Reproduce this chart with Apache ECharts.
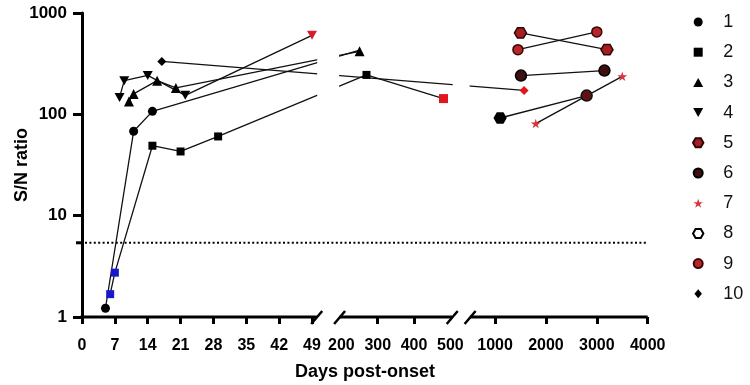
<!DOCTYPE html>
<html><head><meta charset="utf-8">
<script src="https://cdn.jsdelivr.net/npm/echarts@6/dist/echarts.min.js"></script>
<style>html,body{margin:0;padding:0;background:#fff}#chart{width:750px;height:385px}</style>
</head><body><div id="chart"></div>
<script>
// ---------------- data ----------------
const patientNames = ['1', '2', '3', '4', '5', '6', '7', '8', '9', '10'];
const p1Days = [5, 11, 15, 250];
const p1Values = [1.22, 68, 107, 430];
const p2Days = [6, 7, 15, 21, 29, 269, 481];
const p2Values = [1.68, 2.74, 49, 43, 60.5, 245, 143];
const p3Days = [10, 11, 16, 20, 250];
const p3Values = [134, 159, 215, 182, 419];
const p4Days = [8, 9, 14, 22, 49];
const p4Values = [147, 215, 242, 154, 602];
const p5Days = [1500, 3200];
const p5Values = [636, 435];
const p6Days = [1510, 3150];
const p6Values = [241, 270];
const p7Days = [1800, 3500];
const p7Values = [81, 237];
const p8Days = [1100, 2800];
const p8Values = [92, 153];
const p9Days = [1450, 3000];
const p9Values = [435, 651];
const p10Days = [17, 1570];
const p10Values = [333, 172];
const cutoffValue = 5.4;
const xTickDays = [0, 7, 14, 21, 28, 35, 42, 49, 300, 400, 1000, 2000, 3000, 4000];
const xLabelDays = [0, 7, 14, 21, 28, 35, 42, 49, 200, 300, 400, 500, 1000, 2000, 3000, 4000];

// ---------------- broken x-axis definition (scale pieces) ----------------
const xPieces = [
  { from: 0, to: 50, start: 0, end: 234.7 },
  { from: 195, to: 505, start: 257.6, end: 370.2 },
  { from: 510, to: 4000, start: 388.1, end: 565.7 }
];
const axisMax = 566;
function toAxis(d) {
  for (const p of xPieces) {
    if (d >= p.from && d <= p.to) return p.start + (d - p.from) * (p.end - p.start) / (p.to - p.from);
  }
  return NaN;
}
const labelMap = new Map(xLabelDays.map(d => [toAxis(d).toFixed(3), String(d)]));

const FONT = "'Liberation Sans', Arial, sans-serif";
const HEX = 'path://M-1,0 L-0.5,-0.866 L0.5,-0.866 L1,0 L0.5,0.866 L-0.5,0.866 Z';
const TRI_DOWN = 'path://M0,0 L10,0 L5,9 Z';
const TRI_UP = 'path://M5,0 L10,9 L0,9 Z';
const SQUARE = 'path://M0,0 L10,0 L10,10 L0,10 Z';
const DIAMOND = 'path://M5,0 L10,6 L5,12 L0,6 Z';
const STAR = 'path://M50,0 L61.17,34.63 L97.55,34.55 L68.07,55.87 L79.39,90.45 L50,69 L20.61,90.45 L31.93,55.87 L2.45,34.55 L38.83,34.63 Z';
const BLUE = '#1818cc', RED = '#e0161e';

function build(days, values, overrides) {
  return days.map((d, i) => {
    const item = { value: [toAxis(d), values[i]] };
    if (overrides && overrides[i]) Object.assign(item, overrides[i]);
    return item;
  });
}

const seriesDefs = [
  { name: '1', symbol: 'circle', size: 9, style: { color: '#000' }, data: build(p1Days, p1Values, { 3: { symbol: 'none' } }) },
  { name: '2', symbol: 'rect', size: 8, style: { color: '#000' }, data: build(p2Days, p2Values, { 0: { itemStyle: { color: BLUE } }, 1: { itemStyle: { color: BLUE } }, 6: { itemStyle: { color: RED }, symbolSize: 9 } }) },
  { name: '3', symbol: 'triangle', size: 10, style: { color: '#000' }, data: build(p3Days, p3Values) },
  { name: '4', symbol: TRI_DOWN, size: 10, style: { color: '#000' }, data: build(p4Days, p4Values, { 4: { itemStyle: { color: '#d42028' } } }) },
  { name: '5', symbol: HEX, size: 12, style: { color: '#a61d22', borderColor: '#2a0606', borderWidth: 1.5 }, data: build(p5Days, p5Values) },
  { name: '6', symbol: 'circle', size: 11, style: { color: '#3d0f10', borderColor: '#000', borderWidth: 1.5 }, data: build(p6Days, p6Values) },
  { name: '7', symbol: STAR, size: 10, style: { color: '#d8343a' }, data: build(p7Days, p7Values) },
  { name: '8', symbol: HEX, size: 11, style: { color: '#fff', borderColor: '#000', borderWidth: 2 }, data: build(p8Days, p8Values, { 0: { itemStyle: { color: '#000' } }, 1: { symbol: 'circle', itemStyle: { color: '#5e1216', borderColor: '#111', borderWidth: 1.5 } } }) },
  { name: '9', symbol: 'circle', size: 10, style: { color: '#b8262a', borderColor: '#3a0505', borderWidth: 1.5 }, data: build(p9Days, p9Values) },
  { name: '10', symbol: 'diamond', size: 9, style: { color: '#000' }, data: build(p10Days, p10Values, { 1: { itemStyle: { color: RED } } }) }
];

const series = seriesDefs.map(s => ({
  type: 'line', name: s.name, data: s.data,
  symbol: s.symbol, symbolSize: s.size, symbolKeepAspect: true,
  itemStyle: Object.assign({ opacity: 1 }, s.style),
  lineStyle: { color: '#111', width: 1.3 },
  z: 2, animation: false, emphasis: { disabled: true }
}));

series.push({
  type: 'custom', name: 'axisDecor', silent: true, z: 5, animation: false,
  data: [[0, 1]],
  renderItem: function (params, api) {
    const y0 = api.coord([0, 1])[1];
    const yTop = api.coord([0, 1000])[1];
    const children = [];
    for (let i = 0; i < xPieces.length - 1; i++) {
      const xa = api.coord([xPieces[i].end, 1])[0];
      const xb = api.coord([xPieces[i + 1].start, 1])[0];
      children.push({ type: 'rect', shape: { x: xa + 0.5, y: yTop - 4, width: xb - xa - 1, height: y0 - yTop + 2 }, style: { fill: '#fff' } });
    }
    const yc = api.coord([0, cutoffValue])[1];
    const xL = api.coord([0, 1])[0];
    const xR = api.coord([axisMax, 1])[0];
    children.push({ type: 'line', shape: { x1: xL + 3, y1: yc, x2: xR, y2: yc }, style: { stroke: '#000', lineWidth: 2, lineDash: [2, 2.4] } });
    children.push({ type: 'line', shape: { x1: xL - 6, y1: yc, x2: xL, y2: yc }, style: { stroke: '#000', lineWidth: 3 } });
    xPieces.forEach((p, i) => {
      const a = api.coord([p.start, 1])[0];
      const b = api.coord([p.end, 1])[0];
      children.push({ type: 'line', shape: { x1: i === 0 ? a - 1.5 : a, y1: y0, x2: b, y2: y0 }, style: { stroke: '#000', lineWidth: 3 } });
      const slash = x => ({ type: 'line', shape: { x1: x - 5.5, y1: y0 + 7, x2: x + 5.5, y2: y0 - 6 }, style: { stroke: '#000', lineWidth: 2.5 } });
      if (i > 0) children.push(slash(a));
      if (i < xPieces.length - 1) children.push(slash(b));
    });
    return { type: 'group', children: children };
  }
});

const legendIcons = ['circle', SQUARE, TRI_UP, TRI_DOWN, HEX, 'circle', STAR, HEX, 'circle', DIAMOND];

const option = {
  animation: false,
  backgroundColor: '#fff',
  textStyle: { fontFamily: FONT },
  grid: { left: 82, top: 13, width: 566, height: 304, containLabel: false, outerBoundsMode: 'none' },
  legend: {
    orient: 'vertical', left: 687, top: 7, itemWidth: 40, itemHeight: 9, itemGap: 10.2,
    selectedMode: false, symbolKeepAspect: true,
    textStyle: { fontSize: 18, lineHeight: 20, color: '#111', fontFamily: FONT },
    data: patientNames.map((n, i) => ({ name: n, icon: legendIcons[i] }))
  },
  xAxis: {
    type: 'value', min: 0, max: axisMax,
    axisLine: { show: false },
    splitLine: { show: false },
    axisTick: { show: true, customValues: xTickDays.map(toAxis), length: 7, lineStyle: { width: 3, color: '#000' } },
    axisLabel: {
      customValues: xLabelDays.map(toAxis),
      formatter: v => labelMap.get(Number(v).toFixed(3)) || '',
      fontSize: 16, fontWeight: 'bold', color: '#000', margin: 21, fontFamily: FONT
    },
    name: 'Days post-onset', nameLocation: 'middle', nameGap: 46,
    nameTextStyle: { fontSize: 18, fontWeight: 'bold', color: '#000', fontFamily: FONT }
  },
  yAxis: {
    type: 'log', logBase: 10, min: 1, max: 1000,
    axisLine: { show: true, lineStyle: { width: 3, color: '#000' } },
    axisTick: { show: true, length: 9, lineStyle: { width: 3, color: '#000' } },
    axisLabel: { fontSize: 17, fontWeight: 'bold', color: '#000', margin: 15, fontFamily: FONT, formatter: v => String(Math.round(v)) },
    splitLine: { show: false },
    name: 'S/N ratio', nameLocation: 'middle', nameRotate: 90, nameGap: 51, nameMoveOverlap: false,
    nameTextStyle: { fontSize: 18, fontWeight: 'bold', color: '#000', fontFamily: FONT }
  },
  series: series
};

const chart = echarts.init(document.getElementById('chart'), null, { renderer: 'canvas' });
chart.setOption(option);
</script>
</body></html>
